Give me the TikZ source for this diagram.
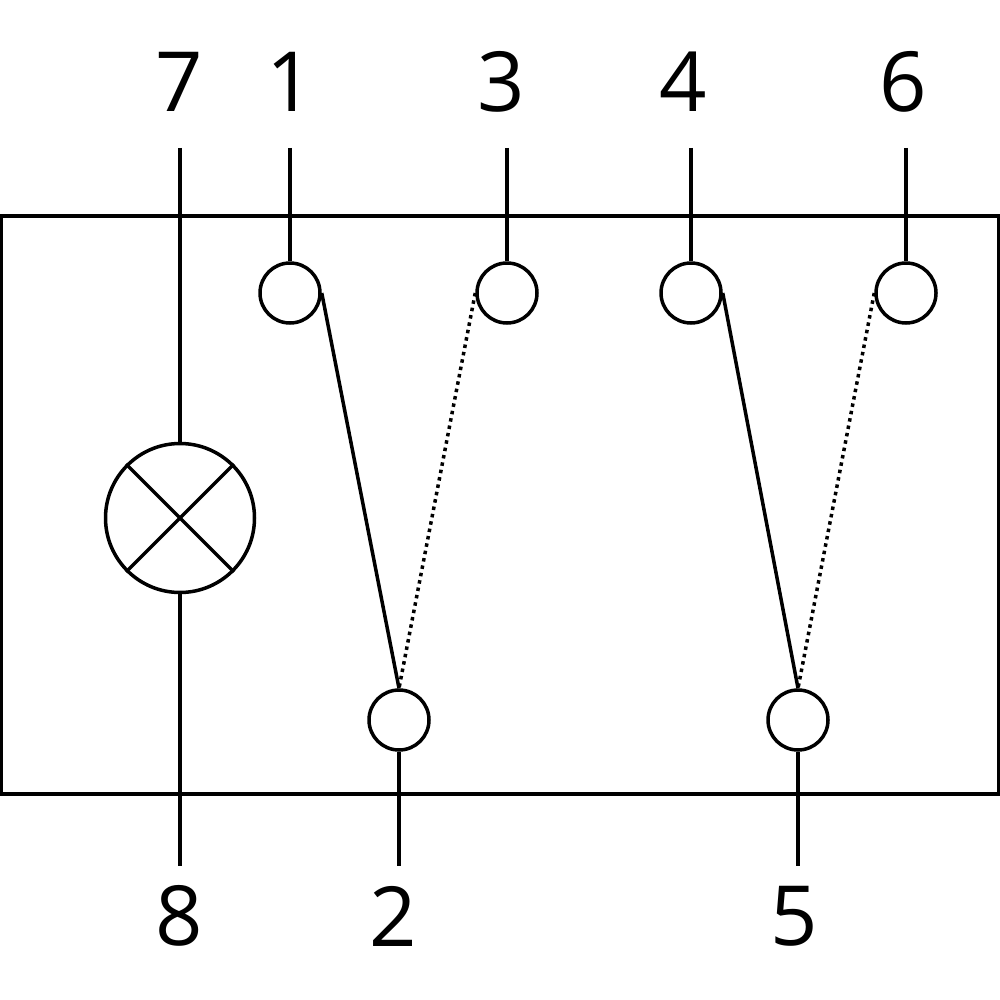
\documentclass[tikz,border=0pt]{standalone}
\usepackage{fontspec}
\setmainfont{Open Sans}
\begin{document}
\begin{tikzpicture}[x=0.1cm,y=-0.1cm,
  wire/.style={line width=0.35mm},
  dots/.style={line width=0.35mm,dash pattern=on 0.35mm off 0.4mm},
  term/.style={circle,draw,line width=0.35mm,minimum size=0.6cm,inner sep=0pt,fill=white},
  lab/.style={font=\fontsize{8.3mm}{8.3mm}\selectfont,inner sep=0pt,anchor=center}]
\useasboundingbox (0,0) rectangle (100,100);
\node[draw,wire,minimum width=9.98cm,minimum height=5.78cm,inner sep=0pt] (box) at (50,50.5) {};
\node[term] (t1) at (29,29.3) {};
\node[term] (t3) at (50.7,29.3) {};
\node[term] (t4) at (69.1,29.3) {};
\node[term] (t6) at (90.6,29.3) {};
\node[term] (t2) at (39.9,72) {};
\node[term] (t5) at (79.8,72) {};
\node[circle,draw,wire,minimum size=1.49cm,inner sep=0pt] (lamp) at (18,51.8) {};
\node[lab] (n7) at (17.9,8.2) {7};
\node[lab] (n1) at (29,8.2) {1};
\node[lab] (n3) at (50.1,8.2) {3};
\node[lab] (n4) at (68.3,8.2) {4};
\node[lab] (n6) at (90.3,8.2) {6};
\node[lab] (n8) at (17.9,91.6) {8};
\node[lab] (n2) at (39.3,91.6) {2};
\node[lab] (n5) at (79.4,91.6) {5};
\coordinate (c7) at (18,14.8);
\coordinate (c1) at (29,14.8);
\coordinate (c3) at (50.7,14.8);
\coordinate (c4) at (69.1,14.8);
\coordinate (c6) at (90.6,14.8);
\coordinate (c8) at (18,86.6);
\coordinate (c2) at (39.9,86.6);
\coordinate (c5) at (79.8,86.6);
\draw[wire] (c7) -- (lamp.north);
\draw[wire] (lamp.south) -- (c8);
\draw[wire] (lamp.45) -- (lamp.225);
\draw[wire] (lamp.135) -- (lamp.315);
\draw[wire] (c1) -- (t1.north);
\draw[wire] (c3) -- (t3.north);
\draw[wire] (c4) -- (t4.north);
\draw[wire] (c6) -- (t6.north);
\draw[wire] (t2.south) -- (c2);
\draw[wire] (t5.south) -- (c5);
\draw[wire] (t1.east) -- (t2.north);
\draw[wire] (t4.east) -- (t5.north);
\draw[dots] (t3.west) -- (t2.north);
\draw[dots] (t6.west) -- (t5.north);
\end{tikzpicture}
\end{document}
